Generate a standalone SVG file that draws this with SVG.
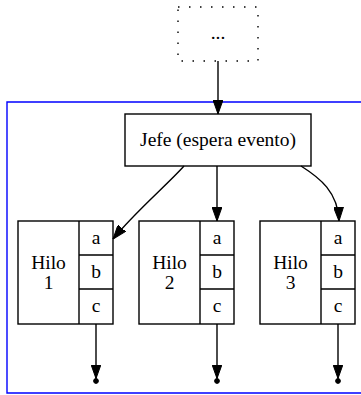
<svg xmlns="http://www.w3.org/2000/svg" width="361" height="395" viewBox="0 0 361 395">
  <defs>
    <style>
      text { font-family: "Liberation Serif", "Times New Roman", serif; font-size: 19.5px; fill: #000; text-anchor: middle; }
      .box { fill: #fff; stroke: #000; stroke-width: 1.4; }
      .cell { fill: none; stroke: #000; stroke-width: 1.4; }
      .edge { fill: none; stroke: #000; stroke-width: 1.4; }
      .end { fill: #000; stroke: #000; stroke-width: 1; }
    </style>
    <marker id="arrow" viewBox="0 0 14 10" refX="14" refY="5" markerWidth="14" markerHeight="10" markerUnits="userSpaceOnUse" orient="auto">
      <path d="M0,0 L14,5 L0,10 Z" fill="#000" stroke="#000" stroke-width="1"/>
    </marker>
  </defs>

  <rect width="361" height="395" fill="#fff"/>

  <!-- cluster of the boss and its worker threads -->
  <g id="cluster">
    <path d="M363,102 L7,102 L7,393 L363,393" fill="none" stroke="#0000ff" stroke-width="1.4"/>
  </g>

  <g id="prev">
    <rect x="178" y="7" width="80" height="54" fill="#fff" stroke="#000" stroke-width="1.4" stroke-dasharray="1.5,9.5"/>
    <text x="218" y="38.5">...</text>
  </g>

  <g id="jefe">
    <rect class="box" x="125" y="114" width="186" height="52"/>
    <text x="218" y="146">Jefe (espera evento)</text>
  </g>

  <g id="hilo1">
    <rect class="box" x="18" y="221" width="95" height="103"/>
    <path class="cell" d="M79,221 V324 M79,255 H113 M79,289 H113"/>
    <text x="48.5" y="269">Hilo</text>
    <text x="48.5" y="289">1</text>
    <text x="96" y="244">a</text>
    <text x="96" y="278">b</text>
    <text x="96" y="312">c</text>
  </g>

  <g id="hilo2">
    <rect class="box" x="139" y="221" width="95" height="103"/>
    <path class="cell" d="M200,221 V324 M200,255 H234 M200,289 H234"/>
    <text x="169.5" y="269">Hilo</text>
    <text x="169.5" y="289">2</text>
    <text x="217" y="244">a</text>
    <text x="217" y="278">b</text>
    <text x="217" y="312">c</text>
  </g>

  <g id="hilo3">
    <rect class="box" x="260" y="221" width="95" height="103"/>
    <path class="cell" d="M321,221 V324 M321,255 H355 M321,289 H355"/>
    <text x="290.5" y="269">Hilo</text>
    <text x="290.5" y="289">3</text>
    <text x="338" y="244">a</text>
    <text x="338" y="278">b</text>
    <text x="338" y="312">c</text>
  </g>

  <g id="fin1"><circle class="end" cx="96" cy="381" r="2.4"/></g>
  <g id="fin2"><circle class="end" cx="217" cy="381" r="2.4"/></g>
  <g id="fin3"><circle class="end" cx="338" cy="381" r="2.4"/></g>

  <g id="edges">
    <path class="edge" d="M218,61 V114" marker-end="url(#arrow)"/>
    <path class="edge" d="M184,166 C168,184 135,212 113,239" marker-end="url(#arrow)"/>
    <path class="edge" d="M217,166 V221" marker-end="url(#arrow)"/>
    <path class="edge" d="M301,166 C320,178 338,192 339,221" marker-end="url(#arrow)"/>
    <path class="edge" d="M96,324 V378.5" marker-end="url(#arrow)"/>
    <path class="edge" d="M217,324 V378.5" marker-end="url(#arrow)"/>
    <path class="edge" d="M338,324 V378.5" marker-end="url(#arrow)"/>
  </g>
</svg>
